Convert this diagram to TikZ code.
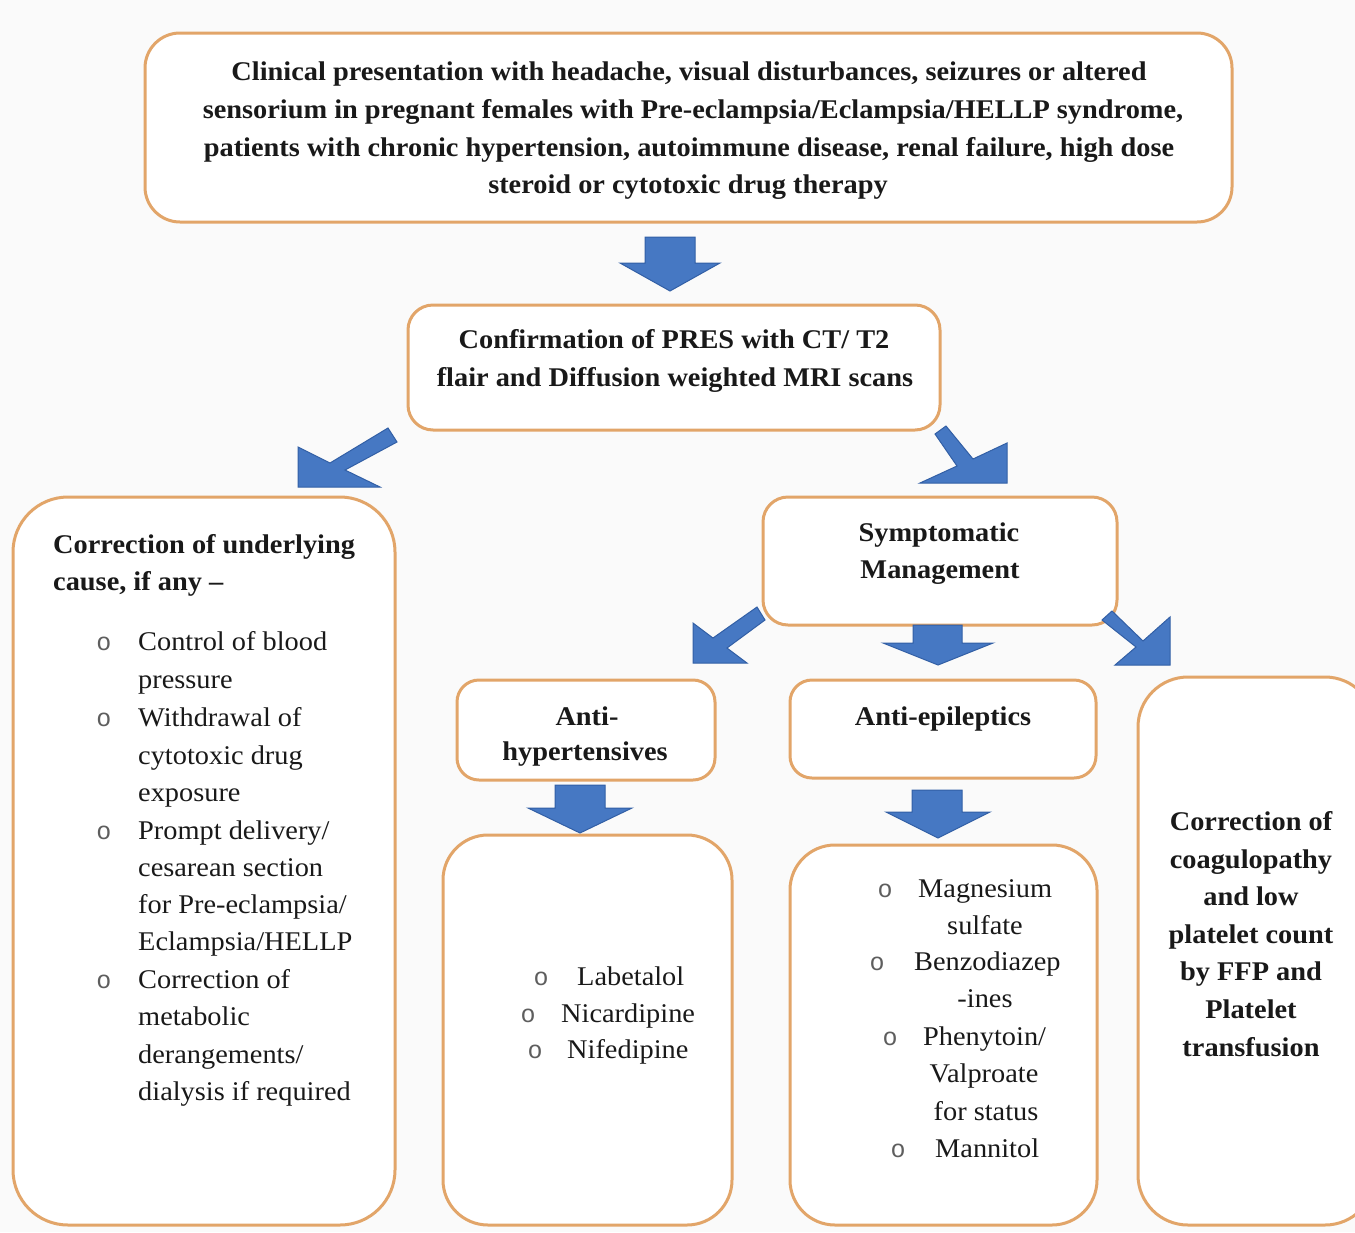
\documentclass[tikz,border=0pt]{standalone}
\usepackage{fontspec}
\setmainfont[FakeStretch=1.05]{Liberation Serif}
\newfontfamily\bulletfont{Liberation Mono}
\definecolor{boxedge}{RGB}{226,165,105}
\definecolor{arrowfill}{RGB}{70,120,195}
\definecolor{arrowedge}{RGB}{50,95,165}
\definecolor{pagebg}{RGB}{250,250,250}
\definecolor{ink}{RGB}{25,25,25}
\begin{document}
\begin{tikzpicture}[x=1pt,y=-1pt,
  roundbox/.style={draw=boxedge, line width=3pt, fill=white, inner sep=0pt},
  bt/.style={font=\fontsize{27}{38}\selectfont\bfseries, text=ink, inner sep=0pt, anchor=base},
  rt/.style={font=\fontsize{27}{38}\selectfont, text=ink, inner sep=0pt, anchor=base west},
  rtc/.style={rt, anchor=base},
  bul/.style={font=\bulletfont\fontsize{25}{26}\selectfont, text=ink!70, inner sep=0pt, anchor=base},
  blockarrow/.style={fill=arrowfill, draw=arrowedge, line width=1pt, line join=miter}]
\useasboundingbox (0,0) rectangle (1355,1232);
\clip (0,0) rectangle (1355,1232);
\fill[pagebg] (0,0) rectangle (1355,1232);

% ---------- boxes ----------
\node[roundbox, rounded corners=35pt, minimum width=1087pt, minimum height=189pt] (top) at (688.5,127.5) {};
\node[roundbox, rounded corners=25pt, minimum width=532pt, minimum height=125pt] (conf) at (674,367.5) {};
\node[roundbox, rounded corners=55pt, minimum width=382pt, minimum height=728pt] (cause) at (204,861) {};
\node[roundbox, rounded corners=25pt, minimum width=354pt, minimum height=128pt] (symp) at (940,561) {};
\node[roundbox, rounded corners=22pt, minimum width=258pt, minimum height=100pt] (antih) at (586,730) {};
\node[roundbox, rounded corners=22pt, minimum width=306pt, minimum height=98pt] (antie) at (943,729) {};
\node[roundbox, rounded corners=45pt, minimum width=289pt, minimum height=390pt] (lab) at (587.5,1030) {};
\node[roundbox, rounded corners=45pt, minimum width=307pt, minimum height=380pt] (mag) at (943.5,1035) {};
\node[roundbox, rounded corners=50pt, minimum width=237pt, minimum height=548pt] (coag) at (1256.5,951) {};

% ---------- block arrows ----------
\filldraw[blockarrow] (645,237) -- (695,237) -- (695,263) -- (720,263) -- (670,291) -- (620,263) -- (645,263) -- cycle;
\filldraw[blockarrow] (298,447) -- (330,463) -- (388,428) -- (397,442) -- (345,470) -- (380,487) -- (298,487) -- cycle;
\filldraw[blockarrow] (1007,443) -- (1007,483) -- (920,483) -- (957,466) -- (935,434) -- (946,426) -- (973,459) -- cycle;
\filldraw[blockarrow] (693,623) -- (713,638) -- (757,607) -- (765,620) -- (727,648) -- (747,663) -- (693,663) -- cycle;
\filldraw[blockarrow] (913,625) -- (962,625) -- (962,643) -- (993,643) -- (938,665) -- (883,643) -- (913,643) -- cycle;
\filldraw[blockarrow] (1170,617) -- (1170,665) -- (1115,665) -- (1136,647) -- (1102,620) -- (1112,611) -- (1143,641) -- cycle;
\filldraw[blockarrow] (555,785) -- (605,785) -- (605,808) -- (632,808) -- (580,833) -- (528,808) -- (555,808) -- cycle;
\filldraw[blockarrow] (912,790) -- (962,790) -- (962,812) -- (990,812) -- (938,838) -- (886,812) -- (912,812) -- cycle;

% ---------- top box text ----------
\node[bt] (t1) at (689,80) {Clinical presentation with headache, visual disturbances, seizures or altered};
\node[bt] (t2) at (693,118) {sensorium in pregnant females with Pre-eclampsia/Eclampsia/HELLP syndrome,};
\node[bt] (t3) at (689,156) {patients with chronic hypertension, autoimmune disease, renal failure, high dose};
\node[bt] (t4) at (688,193) {steroid or cytotoxic drug therapy};

% ---------- confirmation ----------
\node[bt] (c1) at (674,348) {Confirmation of PRES with CT/ T2};
\node[bt] (c2) at (675,386) {flair and Diffusion weighted MRI scans};

% ---------- left box ----------
\node[bt, anchor=base west] (h1) at (53,553) {Correction of underlying};
\node[bt, anchor=base west] (h2) at (53,590) {cause, if any –};
\node[bul] (b1) at (104,650) {o};
\node[rt] (l1) at (138,650) {Control of blood};
\node[rt] (l2) at (138,688) {pressure};
\node[bul] (b2) at (104,726) {o};
\node[rt] (l3) at (138,726) {Withdrawal of};
\node[rt] (l4) at (138,764) {cytotoxic drug};
\node[rt] (l5) at (138,801) {exposure};
\node[bul] (b3) at (104,839) {o};
\node[rt] (l6) at (138,839) {Prompt delivery/};
\node[rt] (l7) at (138,876) {cesarean section};
\node[rt] (l8) at (138,913) {for Pre-eclampsia/};
\node[rt] (l9) at (138,950) {Eclampsia/HELLP};
\node[bul] (b4) at (104,988) {o};
\node[rt] (l10) at (138,988) {Correction of};
\node[rt] (l11) at (138,1025) {metabolic};
\node[rt] (l12) at (138,1063) {derangements/};
\node[rt] (l13) at (138,1100) {dialysis if required};

% ---------- symptomatic ----------
\node[bt] (s1) at (939,541) {Symptomatic};
\node[bt] (s2) at (940,578) {Management};

% ---------- anti boxes ----------
\node[bt] (ah1) at (587,725) {Anti-};
\node[bt] (ah2) at (585,760) {hypertensives};
\node[bt] (ae1) at (943,725) {Anti-epileptics};

% ---------- labetalol box ----------
\node[bul] (lb1) at (541,985) {o};
\node[rt] (lt1) at (577,985) {Labetalol};
\node[bul] (lb2) at (528,1022) {o};
\node[rt] (lt2) at (561,1022) {Nicardipine};
\node[bul] (lb3) at (535,1058) {o};
\node[rt] (lt3) at (567,1058) {Nifedipine};

% ---------- magnesium box ----------
\node[bul] (mb1) at (885,897) {o};
\node[rt] (mt1) at (918,897) {Magnesium};
\node[rtc] (mt2) at (985,934) {sulfate};
\node[bul] (mb2) at (877,970) {o};
\node[rt] (mt3) at (914,970) {Benzodiazep};
\node[rtc] (mt4) at (985,1007) {-ines};
\node[bul] (mb3) at (890,1045) {o};
\node[rt] (mt5) at (923,1045) {Phenytoin/};
\node[rtc] (mt6) at (984,1082) {Valproate};
\node[rtc] (mt7) at (986,1120) {for status};
\node[bul] (mb4) at (898,1157) {o};
\node[rt] (mt8) at (935,1157) {Mannitol};

% ---------- coagulopathy box ----------
\node[bt] (r1) at (1251,830) {Correction of};
\node[bt] (r2) at (1251,868) {coagulopathy};
\node[bt] (r3) at (1251,905) {and low};
\node[bt] (r4) at (1251,943) {platelet count};
\node[bt] (r5) at (1251,980) {by FFP and};
\node[bt] (r6) at (1251,1018) {Platelet};
\node[bt] (r7) at (1251,1056) {transfusion};
\end{tikzpicture}
\end{document}
